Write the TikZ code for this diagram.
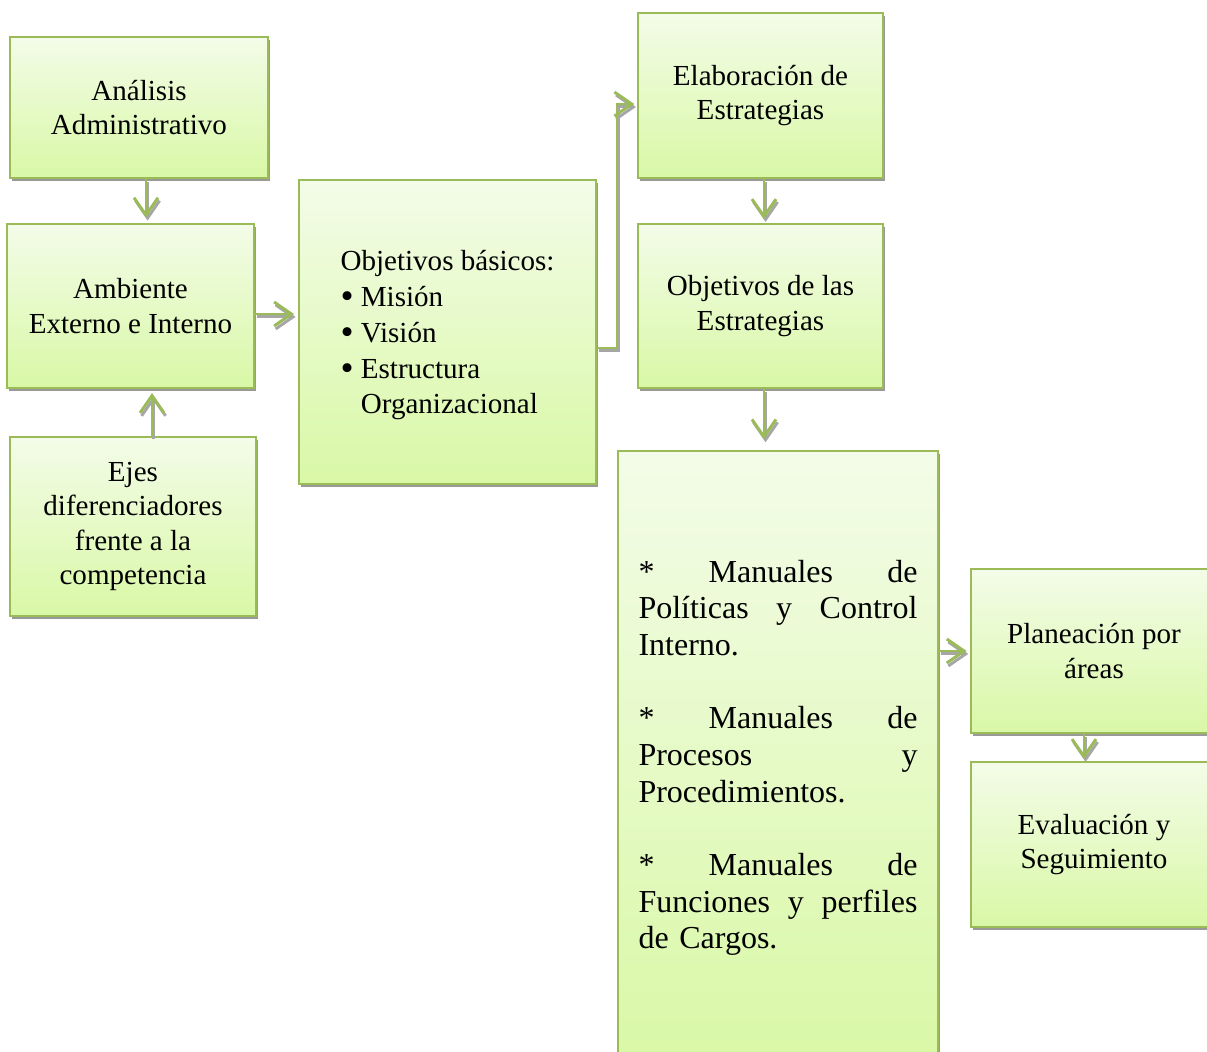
\documentclass[tikz,border=0pt]{standalone}
\usepackage{fontspec}
\setmainfont{Liberation Serif}
\usetikzlibrary{arrows.meta,shadows,calc}
\definecolor{bord}{HTML}{9BBB59}
\definecolor{ftop}{HTML}{F3FCE8}
\definecolor{fbot}{HTML}{D9F8A6}
\newcommand\bul{\smash{\raisebox{-1.5pt}{\fontsize{28}{28}\selectfont\textbullet}}}
\tikzset{
  box/.style={draw=bord, line width=1.5pt, top color=ftop, bottom color=fbot,
    drop shadow={shadow xshift=1.5pt, shadow yshift=-2.2pt, fill=black!40, opacity=1},
    align=center, font=\fontsize{21.8}{25.9}\selectfont, inner sep=0pt},
  sz/.style 2 args={minimum width=#1*0.75pt, minimum height=#2*0.75pt},
  tipv/.style={-{Straight Barb[length=13pt,width=18pt,line width=2.2pt]}},
  arr/.style={draw=bord, line width=2.2pt, tipv},
  arrsh/.style={draw=black!35, line width=2.2pt, tipv, transform canvas={shift={(1.2pt,-2.2pt)}}},
}
\begin{document}
\begin{tikzpicture}[x=0.75pt, y=-0.75pt]
\useasboundingbox (0,0) rectangle (1207,1052);
\clip (0,0) rectangle (1207,1052);

\node[box, sz={258}{141}] (A) at (139,107.5) {Análisis\\Administrativo};
\node[box, sz={247}{164}] (B) at (130.5,306) {Ambiente\\Externo e Interno};
\node[box, sz={246}{179}] (C) at (133,526.5) {Ejes\\diferenciadores\\frente a la\\competencia};
\node[box, sz={297}{304}] (D) at (447.5,332) {};
\node[font=\fontsize{21.8}{26.8}\selectfont, align=left, inner sep=0pt, yshift=-2.5pt] (Dt) at (D.center)
  {Objetivos básicos:\\\bul\ Misión\\\bul\ Visión\\\bul\ Estructura\\\hphantom{\bul\ }Organizacional};
\node[box, sz={245}{165}] (E) at (760.5,95.5) {Elaboración de\\Estrategias};
\node[box, sz={245}{164}] (F) at (760.5,306) {Objetivos de las\\Estrategias};
\node[box, sz={320}{610}] (G) at (778,756) {};
\node[font=\fontsize{24}{27.5}\selectfont, align=left, text width=209.25pt, inner sep=0pt, yshift=-1.5pt] (Gt) at (G.center)
  {*\hfill Manuales\hfill de\\
   Políticas\hfill y\hfill Control\\
   Interno.\\[27.5pt]
   *\hfill Manuales\hfill de\\
   Procesos\hfill y\\
   Procedimientos.\\[27.5pt]
   *\hfill Manuales\hfill de\\
   Funciones\hfill y\hfill perfiles\\
   de Cargos.};
\node[box, sz={246}{164}] (H) at (1094,651) {Planeación por\\áreas};
\node[box, sz={246}{165}] (I) at (1094,844.5) {Evaluación y\\Seguimiento};

\foreach \s in {arrsh,arr}{
  \draw[\s, shorten >=4pt] ([xshift=5.25pt]A.south) -- ([xshift=5.25pt]A.south |- B.north);
  \draw[\s, shorten >=3pt] ([yshift=-6pt]B.east) -- ([yshift=-6pt]B.east -| D.west);
  \draw[\s, shorten >=3pt] ([xshift=14.25pt]C.north) -- ([xshift=14.25pt]C.north |- B.south);
  \draw[\s, shorten >=2pt] ([yshift=-12pt]D.east) -- ++(15pt,0) |- ([yshift=-6.4pt]E.west);
  \draw[\s, shorten >=3pt] ([xshift=2.6pt]E.south) -- ([xshift=2.6pt]E.south |- F.north);
  \draw[\s, shorten >=8pt] ([xshift=2.6pt]F.south) -- ([xshift=2.6pt]F.south |- G.north);
  \draw[\s, shorten >=2.5pt] (G.east |- H.west) -- (H.west);
  \draw[\s, shorten >=1.5pt] ([xshift=-7.5pt]H.south) -- ([xshift=-7.5pt]H.south |- I.north);
}
\end{tikzpicture}
\end{document}
